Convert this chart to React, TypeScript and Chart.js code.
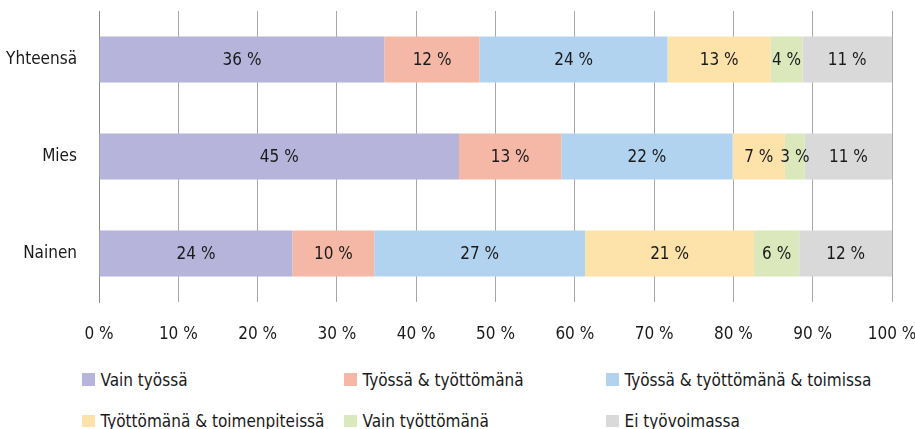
import React, { useEffect, useRef } from "react";
import { Chart, registerables } from "chart.js";

Chart.register(...registerables);

const categories = ["Yhteensä", "Mies", "Nainen"];
const seriesNames = [
  "Vain työssä",
  "Työssä & työttömänä",
  "Työssä & työttömänä & toimissa",
  "Työttömänä & toimenpiteissä",
  "Vain työttömänä",
  "Ei työvoimassa",
];
const vainTyossa = [36.0, 45.4, 24.4];
const tyossaTyottomana = [12.0, 12.9, 10.3];
const tyossaTyottomanaToimissa = [23.7, 21.6, 26.6];
const tyottomanaToimenpiteissa = [13.0, 6.6, 21.3];
const vainTyottomana = [4.0, 2.5, 5.7];
const eiTyovoimassa = [11.3, 11.0, 11.7];
const xTicks = [0, 10, 20, 30, 40, 50, 60, 70, 80, 90, 100];

const colors = ["#b6b4da", "#f6b8a6", "#b2d3f0", "#fde2aa", "#dae8bc", "#d9d9d9"];
const FONT = "'Liberation Sans Narrow', 'DejaVu Sans Condensed', 'Roboto Condensed', sans-serif";

const labelPlugin = {
  id: "segLabels",
  afterDatasetsDraw(chart: any) {
    const ctx = chart.ctx;
    ctx.save();
    ctx.font = `17px ${FONT}`;
    ctx.fillStyle = "#1a1a1a";
    ctx.textAlign = "center";
    ctx.textBaseline = "middle";
    chart.data.datasets.forEach((ds: any, di: number) => {
      const meta = chart.getDatasetMeta(di);
      meta.data.forEach((el: any, i: number) => {
        const v = ds.data[i];
        const cx = (el.x + el.base) / 2;
        ctx.fillText(`${Math.round(v)} %`, cx, el.y + 1);
      });
    });
    ctx.restore();
  },
};

export default function App() {
  const ref = useRef<HTMLCanvasElement | null>(null);
  useEffect(() => {
    document.body.style.margin = "0";
    const all = [
      vainTyossa,
      tyossaTyottomana,
      tyossaTyottomanaToimissa,
      tyottomanaToimenpiteissa,
      vainTyottomana,
      eiTyovoimassa,
    ];
    const chart = new Chart(ref.current as HTMLCanvasElement, {
      type: "bar",
      data: {
        labels: categories,
        datasets: all.map((d, i) => ({
          label: seriesNames[i],
          data: d,
          backgroundColor: colors[i],
          borderWidth: 0,
          barPercentage: 0.475,
          categoryPercentage: 1,
        })),
      },
      options: {
        indexAxis: "y",
        animation: false,
        responsive: false,
        maintainAspectRatio: false,
        layout: { padding: { top: 11, right: 23, bottom: 0, left: 0 } },
        plugins: { legend: { display: false }, tooltip: { enabled: false } },
        scales: {
          x: {
            stacked: true,
            min: 0,
            max: 100,
            afterBuildTicks: (scale: any) => {
              scale.ticks = xTicks.map((v) => ({ value: v }));
            },
            afterFit: (scale: any) => {
              scale.height = 50;
              scale.paddingLeft = 0;
              scale.paddingRight = 0;
            },
            grid: { color: "#a8a8a8", lineWidth: 1, drawTicks: false },
            border: { display: false },
            ticks: {
              padding: 22,
              color: "#1a1a1a",
              font: { family: FONT, size: 17 },
              callback: (v: any) => `${v} %`,
            },
          },
          y: {
            stacked: true,
            afterFit: (scale: any) => {
              scale.width = 99;
              scale.paddingTop = 0;
              scale.paddingBottom = 0;
            },
            grid: { display: false, drawTicks: false },
            border: { display: true, color: "#8a8a8a", width: 1 },
            ticks: {
              padding: 22,
              color: "#1a1a1a",
              font: { family: FONT, size: 17 },
            },
          },
        },
      },
      plugins: [labelPlugin],
    });
    return () => chart.destroy();
  }, []);

  const boxX = [82, 344, 606];
  const rowY = [379.5, 421];
  return (
    <div style={{ position: "absolute", left: 0, top: 0, width: 915, height: 429, overflow: "hidden", background: "#fff" }}>
      <canvas ref={ref} width={915} height={352} style={{ display: "block" }} />
      {seriesNames.map((name, i) => (
        <div
          key={name}
          style={{
            position: "absolute",
            left: boxX[i % 3],
            top: rowY[Math.floor(i / 3)] - 12,
            height: 24,
            display: "flex",
            alignItems: "center",
            fontFamily: FONT,
            fontSize: 17,
            color: "#1a1a1a",
            whiteSpace: "nowrap",
          }}
        >
          <span style={{ display: "inline-block", width: 12.5, height: 12.5, background: colors[i], marginRight: 6 }} />
          <span>{name}</span>
        </div>
      ))}
    </div>
  );
}
